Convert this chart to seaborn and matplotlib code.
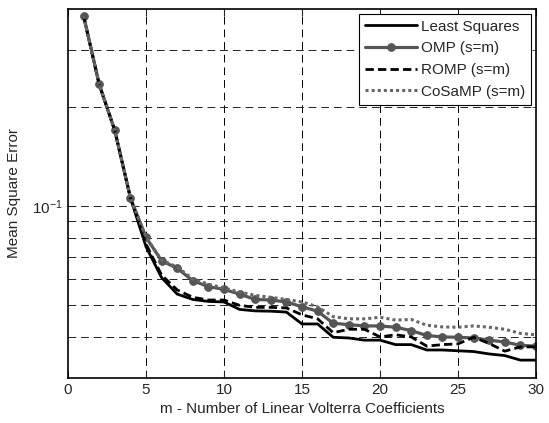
import numpy as np
import pandas as pd
import matplotlib
matplotlib.use('Agg')
import matplotlib.pyplot as plt
from matplotlib.ticker import FixedLocator, NullFormatter, FixedFormatter
import seaborn as sns

## values (m = 1..30)
m = list(range(1, 31))
least_squares = [0.380, 0.235, 0.170, 0.106, 0.0752, 0.0605, 0.0539, 0.0519, 0.0512, 0.0510,
                 0.0484, 0.0479, 0.0478, 0.0475, 0.0437, 0.0437, 0.0398, 0.0396, 0.0390, 0.0390,
                 0.0378, 0.0378, 0.0364, 0.0364, 0.0362, 0.0360, 0.0354, 0.0350, 0.0339, 0.0339]
omp = [0.380, 0.235, 0.170, 0.106, 0.0803, 0.0681, 0.0646, 0.0592, 0.0568, 0.0557,
       0.0539, 0.0519, 0.0517, 0.0510, 0.0493, 0.0478, 0.0439, 0.0435, 0.0431, 0.0431,
       0.0427, 0.0417, 0.0403, 0.0399, 0.0398, 0.0396, 0.0390, 0.0385, 0.0376, 0.0374]
romp = [0.380, 0.235, 0.170, 0.106, 0.0766, 0.0616, 0.0555, 0.0527, 0.0517, 0.0517,
        0.0498, 0.0491, 0.0491, 0.0489, 0.0466, 0.0453, 0.0411, 0.0421, 0.0421, 0.0399,
        0.0405, 0.0399, 0.0374, 0.0378, 0.0380, 0.0398, 0.0381, 0.0361, 0.0372, 0.0372]
cosamp = [0.380, 0.235, 0.170, 0.106, 0.0804, 0.0684, 0.0652, 0.0599, 0.0578, 0.0562,
          0.0547, 0.0534, 0.0527, 0.0519, 0.0510, 0.0493, 0.0460, 0.0453, 0.0453, 0.0458,
          0.0449, 0.0451, 0.0433, 0.0428, 0.0427, 0.0431, 0.0427, 0.0421, 0.0409, 0.0405]

x_ticks = [0, 5, 10, 15, 20, 25, 30]
y_grid = [0.04, 0.05, 0.06, 0.07, 0.08, 0.09, 0.1, 0.2, 0.3]

sns.set_style('ticks')
plt.rcParams['font.family'] = ['Liberation Sans', 'DejaVu Sans']
plt.rcParams['mathtext.default'] = 'regular'
plt.rcParams['font.size'] = 11

fig = plt.figure(figsize=(5.49, 4.23), dpi=100)
ax = fig.add_axes([68/549, 1 - 378/423, (536 - 68)/549, (378 - 9)/423])

# grid first so the curves sit on top
for xv in x_ticks[1:-1]:
    ax.axvline(xv, color='black', lw=0.7, ls=(0, (8, 5)), zorder=0)
for yv in y_grid:
    ax.axhline(yv, color='#222222', lw=0.7, ls=(0, (8, 5)), zorder=0)

sns.lineplot(x=m, y=least_squares, ax=ax, color='black', lw=2, label='Least Squares')
sns.lineplot(x=m, y=omp, ax=ax, color='#555555', lw=2.3, marker='o', markersize=5.5,
             markeredgecolor='#555555', label='OMP (s=m)')
sns.lineplot(x=m, y=romp, ax=ax, color='black', lw=2, ls=(0, (3, 1.5)), label='ROMP (s=m)')
sns.lineplot(x=m, y=cosamp, ax=ax, color='#666666', lw=2.2, ls=(0, (1, 1)), label='CoSaMP (s=m)')

ax.set_yscale('log')
ax.set_xlim(0, 30)
ax.set_ylim(0.0299, 0.399)
ax.set_xticks(x_ticks)
ax.yaxis.set_major_locator(FixedLocator([0.1]))
ax.yaxis.set_major_formatter(FixedFormatter(['$10^{-1}$']))
ax.yaxis.set_minor_locator(FixedLocator(y_grid))
ax.yaxis.set_minor_formatter(NullFormatter())
ax.tick_params(which='both', direction='in', top=True, right=True, labelsize=11)
ax.tick_params(which='major', length=5)
ax.tick_params(which='minor', length=3)
for s in ax.spines.values():
    s.set_linewidth(1.2)
    s.set_color('black')

ax.set_xlabel('m - Number of Linear Volterra Coefficients', fontsize=11)
ax.set_ylabel('Mean Square Error', fontsize=11, labelpad=8)

leg = ax.legend(loc='upper right', fontsize=11, frameon=True, fancybox=False,
                edgecolor='black', framealpha=1, borderaxespad=0.3,
                handlelength=3.4, labelspacing=0.5, borderpad=0.4, handletextpad=0.25)
leg.get_frame().set_linewidth(0.8)

fig.savefig('out.png', dpi=100)
